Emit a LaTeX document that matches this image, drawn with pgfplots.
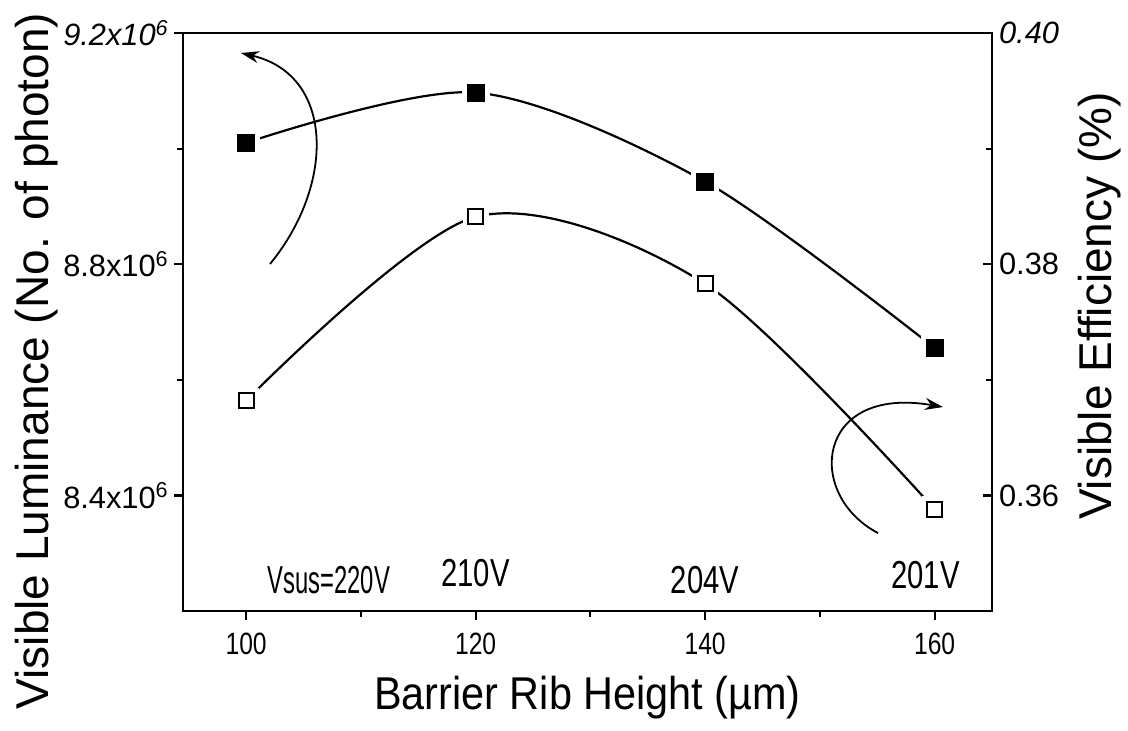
\documentclass[border=0pt]{standalone}
\usepackage{fontspec}
\setmainfont{Liberation Sans}
\usepackage{graphicx}
\usepackage{pgfplots}
\usepackage{pgfplotstable}
\pgfplotsset{compat=1.18}
\usetikzlibrary{arrows.meta}

% Visible luminance (left axis), filled squares
\pgfplotstableread{
x lum
100 9.010e6
120 9.097e6
140 8.943e6
160 8.655e6
}\lumtable
% Visible efficiency (right axis), open squares
\pgfplotstableread{
x eff
100 0.3682
120 0.3841
140 0.3783
160 0.3588
}\efftable

\newcommand{\ticksize}{\fontsize{15.4}{18}\selectfont}
\newcommand{\labsize}{\fontsize{23}{27}\selectfont}
\newcommand{\annsize}{\fontsize{19.5}{23}\selectfont}

\begin{document}
\begin{tikzpicture}
\pgfplotsset{
  every axis/.append style={
    scale only axis, width=404.5pt, height=289pt,
    xmin=94.5, xmax=165,
    axis line style={line width=1.3pt},
    major tick style={line width=1.1pt, black},
    minor tick style={line width=1.1pt, black},
    major tick length=4.6pt, minor tick length=3pt,
    /pgf/number format/assume math mode=true,
    tick label style={font=\ticksize},
    label style={font=\labsize},
  }
}
\begin{axis}[
  name=lum,
  ymin=8.2e6, ymax=9.2e6,
  xtick pos=bottom, ytick pos=left,
  tick align=outside,
  xtick={100,120,140,160},
  xticklabels={\scalebox{0.8}[1]{100},\scalebox{0.8}[1]{120},\scalebox{0.8}[1]{140},\scalebox{0.8}[1]{160}},
  minor xtick={110,130,150},
  ytick={8.4e6,8.8e6,9.2e6},
  yticklabels={8.4x10\textsuperscript{6},8.8x10\textsuperscript{6},\textit{9.2x10\textsuperscript{6}}},
  minor ytick={8.6e6,9.0e6},
  scaled y ticks=false,
  xticklabel style={yshift=-3pt},
  yticklabel style={xshift=1pt},
  xlabel={\scalebox{0.9}[1]{Barrier Rib Height (\textmu m)}},
  xlabel style={at={(axis description cs:0.5,-0.149)}, anchor=center},
  ylabel={Visible Luminance (No. of photon)},
  ylabel style={at={(axis description cs:-0.1805,0.4325)}, anchor=center},
  clip=false,
]
\addplot[line width=1.1pt, smooth, black] table[x=x, y=lum] {\lumtable};
\addplot[only marks, mark=square*, mark size=6.8pt, draw=white, fill=white] table[x=x, y=lum] {\lumtable};
\addplot[only marks, mark=square*, mark size=4.2pt, black, fill=black] table[x=x, y=lum] {\lumtable};

% supply voltages
\node[font=\annsize] at (axis cs:107.2,8.254e6) {\scalebox{0.61}[1]{Vsus=220V}};
\node[font=\annsize] at (axis cs:120,8.266e6) {\scalebox{0.75}[1]{210V}};
\node[font=\annsize] at (axis cs:140,8.254e6) {\scalebox{0.75}[1]{204V}};
\node[font=\annsize] at (axis cs:159.2,8.262e6) {\scalebox{0.75}[1]{201V}};

% arrows pointing to the axis of each curve
\draw[line width=0.9pt, -{Stealth[length=9pt,width=6pt]}]
  (rel axis cs:0.1075,0.6003) .. controls (rel axis cs:0.1879,0.737) and (rel axis cs:0.1879,0.9273) .. (rel axis cs:0.0717,0.9654);
\draw[line width=0.9pt, -{Stealth[length=9pt,width=6pt]}]
  (rel axis cs:0.8591,0.1349) .. controls (rel axis cs:0.7689,0.2007) and (rel axis cs:0.7812,0.391) .. (rel axis cs:0.9394,0.3529);
\end{axis}

\begin{axis}[
  ymin=0.35, ymax=0.40,
  axis x line=none,
  axis y line*=right,
  ytick pos=right,
  tick align=inside,
  ytick={0.36,0.38,0.40},
  yticklabels={0.36,0.38,\textit{0.40}},
  minor ytick={0.37,0.39},
  ylabel={Visible Efficiency (\%)},
  ylabel style={at={(axis description cs:1.1335,0.5277)}, anchor=center},
]
\addplot[line width=1.1pt, smooth, black] table[x=x, y=eff] {\efftable};
\addplot[only marks, mark=square*, mark size=6.3pt, draw=white, fill=white] table[x=x, y=eff] {\efftable};
\addplot[only marks, mark=square, mark size=3.8pt, line width=1pt, black] table[x=x, y=eff] {\efftable};
\end{axis}

\pgfresetboundingbox
\path[use as bounding box] ([shift={(-91.5pt,-59.5pt)}]lum.south west) rectangle ([shift={(68pt,16.5pt)}]lum.north east);
\end{tikzpicture}
\end{document}
